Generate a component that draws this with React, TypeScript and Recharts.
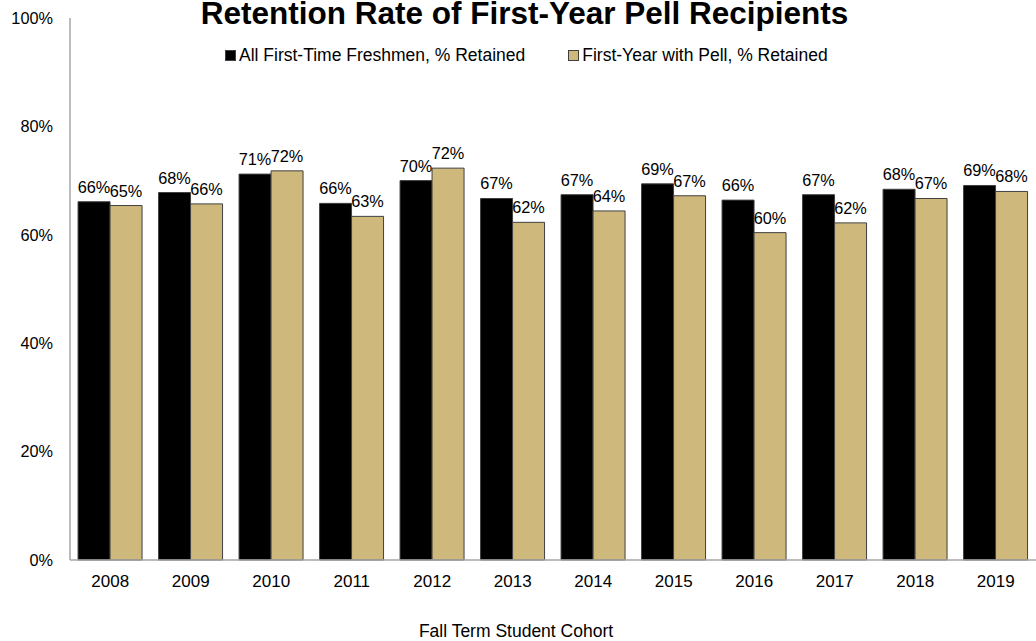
import React from "react";
import {
    BarChart,
    Bar,
    XAxis,
    YAxis,
    Legend,
    LabelList,
} from "recharts";

const years = ["2008", "2009", "2010", "2011", "2012", "2013", "2014", "2015", "2016", "2017", "2018", "2019"];
const allFreshmen = [66.1, 67.8, 71.2, 65.8, 70.0, 66.7, 67.4, 69.4, 66.4, 67.4, 68.4, 69.1];
const pellFirstYear = [65.4, 65.7, 71.8, 63.4, 72.3, 62.3, 64.4, 67.2, 60.4, 62.2, 66.7, 68.0];
const yTicks = [0, 20, 40, 60, 80, 100];

const seriesNames = {
    all: "All First-Time Freshmen, % Retained",
    pell: "First-Year with Pell, % Retained",
};

const FONT = "Arial, 'Liberation Sans', sans-serif";
const GOLD = "#CFB87C";

const data = years.map((year, i) => ({
    year,
    all: allFreshmen[i],
    pell: pellFirstYear[i],
}));

function LegendBox() {
    const items = [
        { name: seriesNames.all, color: "#000000" },
        { name: seriesNames.pell, color: GOLD },
    ];
    return (
        <div style={{ display: "flex", fontFamily: FONT, fontSize: 17.5, color: "#000", lineHeight: "20px" }}>
            {items.map((it, i) => (
                <div key={it.name} style={{ display: "flex", alignItems: "center", marginRight: i === 0 ? 43 : 0 }}>
                    <span
                        style={{
                            display: "inline-block",
                            width: 9,
                            height: 9,
                            background: it.color,
                            border: "1px solid #404040",
                            marginRight: 3,
                        }}
                    />
                    <span>{it.name}</span>
                </div>
            ))}
        </div>
    );
}

export default function App() {
    const pct = (v: any) => `${Math.round(Number(v))}%`;

    return (
        <div style={{ position: "absolute", left: 0, top: 0, width: 1036, height: 641, background: "#fff" }}>
            <BarChart
                width={1036}
                height={641}
                data={data}
                margin={{ top: 18, right: 0, left: 0, bottom: 0 }}
                barCategoryGap="10%"
                barGap={0}
            >
                <text
                    x={524.5}
                    y={24}
                    textAnchor="middle"
                    fontFamily={FONT}
                    fontWeight="bold"
                    fontSize={31.5}
                    fill="#000"
                >
                    Retention Rate of First-Year Pell Recipients
                </text>
                <text x={516} y={636.5} textAnchor="middle" fontFamily={FONT} fontSize={17.5} fill="#000">
                    Fall Term Student Cohort
                </text>
                <XAxis
                    dataKey="year"
                    height={81}
                    tickLine={false}
                    tickSize={0}
                    tickMargin={15}
                    axisLine={{ stroke: "#A6A6A6", strokeWidth: 1.5 }}
                    tick={{ fill: "#000", fontSize: 17, fontFamily: FONT }}
                />
                <YAxis
                    width={70}
                    domain={[0, 100]}
                    ticks={yTicks}
                    tickFormatter={(v) => `${v}%`}
                    tickLine={false}
                    tickSize={0}
                    tickMargin={17}
                    axisLine={{ stroke: "#A6A6A6", strokeWidth: 1.5 }}
                    tick={{ fill: "#000", fontSize: 16.3, fontFamily: FONT }}
                />
                <Legend
                    verticalAlign="middle"
                    align="center"
                    content={() => <LegendBox />}
                    wrapperStyle={{ top: 45, left: 225, width: "auto" }}
                />
                <Bar dataKey="all" name={seriesNames.all} fill="#000000" stroke="#404040" strokeWidth={1} isAnimationActive={false}>
                    <LabelList
                        dataKey="all"
                        position="top"
                        offset={9}
                        formatter={pct}
                        fill="#000"
                        fontSize={16.3}
                        fontFamily={FONT}
                    />
                </Bar>
                <Bar dataKey="pell" name={seriesNames.pell} fill={GOLD} stroke="#404040" strokeWidth={1} isAnimationActive={false}>
                    <LabelList
                        dataKey="pell"
                        position="top"
                        offset={9}
                        formatter={pct}
                        fill="#000"
                        fontSize={16.3}
                        fontFamily={FONT}
                    />
                </Bar>
            </BarChart>
        </div>
    );
}
